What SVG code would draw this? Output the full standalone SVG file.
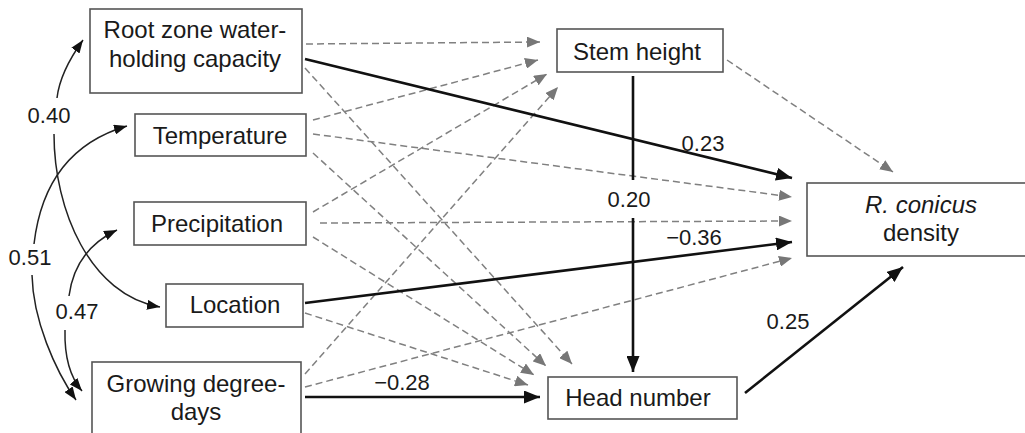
<svg xmlns="http://www.w3.org/2000/svg" width="1025" height="433" viewBox="0 0 1025 433">
<style>
.box{fill:#fff;stroke:#555;stroke-width:1.6}
.t{font-family:"Liberation Sans",Arial,sans-serif;font-size:24px;fill:#1a1a1a;text-anchor:middle}
.lb{font-family:"Liberation Sans",Arial,sans-serif;font-size:22px;fill:#1a1a1a;text-anchor:middle}
.d{fill:none;stroke:#808080;stroke-width:1.5;stroke-dasharray:7 4}
.s{fill:none;stroke:#111;stroke-width:2.6}
.c{fill:none;stroke:#222;stroke-width:1.5}
</style>
<defs>
<marker id="ag" markerUnits="userSpaceOnUse" markerWidth="13" markerHeight="11" refX="13" refY="5.5" orient="auto"><path d="M0,0 L13,5.5 L0,11 z" fill="#777"/></marker>
<marker id="ab" markerUnits="userSpaceOnUse" markerWidth="16" markerHeight="13" refX="16" refY="6.5" orient="auto"><path d="M0,0 L16,6.5 L0,13 z" fill="#111"/></marker>
<marker id="ac" markerUnits="userSpaceOnUse" markerWidth="13" markerHeight="10" refX="13" refY="5" orient="auto"><path d="M0,0 L13,5 L0,10 z" fill="#111"/></marker>
</defs>
<g id="connectors">
<line class="d" x1="306" y1="44" x2="540" y2="42" marker-end="url(#ag)"/>
<line class="d" x1="313" y1="120" x2="538" y2="60" marker-end="url(#ag)"/>
<line class="d" x1="313" y1="212" x2="547" y2="74" marker-end="url(#ag)"/>
<line class="d" x1="305" y1="374" x2="558" y2="87" marker-end="url(#ag)"/>
<line class="d" x1="305" y1="68" x2="572" y2="364" marker-end="url(#ag)"/>
<line class="d" x1="313" y1="153" x2="546" y2="366" marker-end="url(#ag)"/>
<line class="d" x1="313" y1="237" x2="534" y2="375" marker-end="url(#ag)"/>
<line class="d" x1="305" y1="313" x2="528" y2="385" marker-end="url(#ag)"/>
<line class="d" x1="313" y1="134" x2="792" y2="197" marker-end="url(#ag)"/>
<line class="d" x1="320" y1="223" x2="792" y2="221" marker-end="url(#ag)"/>
<line class="d" x1="305" y1="387" x2="792" y2="258" marker-end="url(#ag)"/>
<line class="d" x1="727" y1="60" x2="893" y2="172" marker-end="url(#ag)"/>
<line class="s" x1="305" y1="59" x2="792" y2="178" marker-end="url(#ab)"/>
<line class="s" x1="305" y1="303" x2="792" y2="242" marker-end="url(#ab)"/>
<line class="s" x1="305" y1="397" x2="540" y2="397" marker-end="url(#ab)"/>
<line class="s" x1="745" y1="393" x2="903" y2="267" marker-end="url(#ab)"/>
<line class="s" x1="633" y1="76" x2="633" y2="180"/>
<line class="s" x1="633" y1="218" x2="633" y2="372" marker-end="url(#ab)"/>
<path class="c" d="M57,98 Q60,72 83,40" marker-end="url(#ac)"/>
<path class="c" d="M54,134 C54,210 90,295 160,307" marker-end="url(#ac)"/>
<path class="c" d="M34,244 Q45,150 127,126" marker-end="url(#ac)"/>
<path class="c" d="M32,275 C33,320 55,370 76,400" marker-end="url(#ac)"/>
<path class="c" d="M69,296 Q75,250 117,230" marker-end="url(#ac)"/>
<path class="c" d="M65,330 Q64,370 82,391" marker-end="url(#ac)"/>
<text class="lb" x="49" y="123">0.40</text>
<text class="lb" x="30" y="265">0.51</text>
<text class="lb" x="77" y="319">0.47</text>
<text class="lb" x="703" y="151">0.23</text>
<text class="lb" x="629" y="207">0.20</text>
<text class="lb" x="694" y="245">−0.36</text>
<text class="lb" x="402" y="390">−0.28</text>
<text class="lb" x="788" y="329">0.25</text>
</g>
<g id="root-zone"><rect class="box" x="90" y="9" width="212" height="84"/><text class="t" x="195" y="38">Root zone water-</text><text class="t" x="195" y="67">holding capacity</text></g>
<g id="temperature"><rect class="box" x="135" y="114" width="171" height="42"/><text class="t" x="220" y="144">Temperature</text></g>
<g id="precipitation"><rect class="box" x="134" y="202" width="172" height="43"/><text class="t" x="217" y="232">Precipitation</text></g>
<g id="location"><rect class="box" x="166" y="284" width="137" height="43"/><text class="t" x="235" y="313">Location</text></g>
<g id="gdd"><rect class="box" x="92" y="362" width="209" height="85"/><text class="t" x="196" y="392">Growing degree-</text><text class="t" x="196" y="420">days</text></g>
<g id="stem-height"><rect class="box" x="557" y="29" width="166" height="43"/><text class="t" x="637" y="60">Stem height</text></g>
<g id="head-number"><rect class="box" x="548" y="377" width="189" height="42"/><text class="t" x="638" y="406">Head number</text></g>
<g id="density"><rect class="box" x="807" y="183" width="240" height="73"/><text class="t" x="921" y="213"><tspan font-style="italic">R. conicus</tspan></text><text class="t" x="921" y="241">density</text></g>
</svg>
